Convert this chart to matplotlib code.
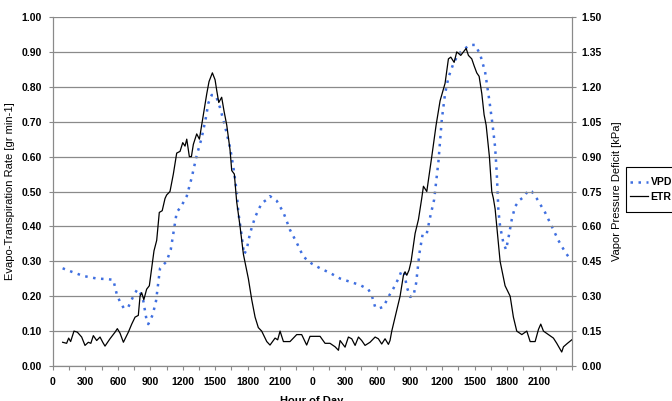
import matplotlib
matplotlib.use("Agg")
import matplotlib.pyplot as plt
from matplotlib.patches import Rectangle
import numpy as np

plt.rcParams.update({
    "font.family": ["Liberation Sans", "DejaVu Sans"],
    "font.weight": "bold", "font.size": 7.5,
})

GRID, BLUE = "#8a8a8a", "#3f6fe0"

# hours since start of day 1 (two days), ETR in gr min-1
etr_h = [0.89, 1.26, 1.45, 1.63, 1.94, 2.25, 2.65, 2.96, 3.27, 3.50, 3.73, 4.04,
         4.35, 4.60, 4.81, 5.27, 5.74, 5.95, 6.20, 6.51, 6.97, 7.28, 7.59, 7.89,
         8.05, 8.20, 8.40, 8.66, 8.91, 9.34, 9.59, 9.83, 10.1, 10.36, 10.51, 10.82,
         11.13, 11.44, 11.75, 12.00, 12.21, 12.37, 12.61, 12.80, 12.98, 13.29, 13.54,
         13.91, 14.22, 14.43, 14.74, 14.99, 15.14, 15.33, 15.60, 15.82, 16.07, 16.37,
         16.53, 16.77, 16.99, 17.30, 17.61, 18.07, 18.38, 18.69, 18.99, 19.30, 19.77,
         20.07, 20.54, 20.78, 21.00, 21.31, 21.92, 22.54, 23.00, 23.46, 23.77, 24.70,
         25.16, 25.62, 26.09, 26.40, 26.55, 27.01, 27.32, 27.63, 27.94, 28.25, 28.55,
         28.86, 29.32, 29.79, 30.09, 30.40, 30.71, 31.02, 31.17, 31.33, 31.79, 32.10,
         32.41, 32.56, 32.72, 32.93, 33.12, 33.49, 33.80, 34.10, 34.26, 34.57, 35.03,
         35.43, 35.80, 36.26, 36.57, 36.79, 37.10, 37.34, 37.71, 37.96, 38.21, 38.42,
         38.73, 38.95, 39.19, 39.41, 39.66, 39.87, 40.06, 40.36, 40.58, 40.73, 40.89,
         41.04, 41.35, 41.81, 42.28, 42.58, 42.89, 43.36, 43.82, 44.13, 44.59, 44.90,
         45.11, 45.36, 45.82, 46.28, 46.59, 47.05, 47.21, 47.58, 47.98]
etr = [0.068, 0.065, 0.080, 0.070, 0.100, 0.097, 0.083, 0.059, 0.068, 0.065, 0.087, 0.073,
       0.083, 0.068, 0.057, 0.078, 0.097, 0.107, 0.094, 0.068, 0.097, 0.120, 0.140, 0.145,
       0.200, 0.210, 0.190, 0.220, 0.230, 0.330, 0.360, 0.440, 0.445, 0.480, 0.490, 0.500,
       0.550, 0.610, 0.615, 0.640, 0.630, 0.650, 0.600, 0.600, 0.635, 0.665, 0.650,
       0.720, 0.780, 0.815, 0.840, 0.820, 0.790, 0.755, 0.770, 0.730, 0.690, 0.620,
       0.560, 0.550, 0.470, 0.400, 0.320, 0.250, 0.190, 0.140, 0.110, 0.100, 0.070,
       0.060, 0.080, 0.075, 0.100, 0.070, 0.070, 0.090, 0.090, 0.060, 0.085, 0.085,
       0.065, 0.065, 0.055, 0.045, 0.073, 0.054, 0.083, 0.078, 0.059, 0.083, 0.073,
       0.059, 0.068, 0.083, 0.078, 0.063, 0.078, 0.062, 0.073, 0.100, 0.160, 0.200,
       0.260, 0.270, 0.260, 0.275, 0.300, 0.380, 0.420, 0.480, 0.515, 0.500, 0.600,
       0.690, 0.760, 0.810, 0.880, 0.885, 0.870, 0.900, 0.890, 0.900, 0.910, 0.890,
       0.880, 0.860, 0.840, 0.830, 0.780, 0.720, 0.690, 0.600, 0.500, 0.480, 0.450,
       0.400, 0.300, 0.230, 0.200, 0.140, 0.100, 0.090, 0.100, 0.070, 0.070, 0.105,
       0.120, 0.100, 0.090, 0.080, 0.065, 0.040, 0.055, 0.065, 0.075]

# VPD in kPa (right axis)
vpd_h = [0.89, 1.73, 2.80, 4.04, 5.12, 5.58, 5.89, 6.20, 6.57, 6.97, 7.43, 7.80, 8.05,
         8.35, 8.66, 8.81, 9.22, 9.53, 9.90, 10.51, 10.89, 11.44, 11.90, 12.37, 12.83,
         13.29, 13.75, 14.15, 14.37, 14.68, 15.08, 15.45, 15.91, 16.37, 16.68, 16.99,
         17.14, 17.45, 17.67, 17.91, 18.22, 18.69, 19.30, 19.77, 20.07, 20.69, 21.31,
         21.92, 22.54, 23.15, 23.93, 24.70, 25.62, 26.55, 27.47, 28.40, 29.17, 29.48,
         29.79, 30.09, 30.56, 31.02, 31.48, 31.95, 32.25, 32.47, 32.72, 33.03, 33.33,
         33.58, 33.89, 34.20, 34.57, 34.88, 35.25, 35.65, 35.96, 36.26, 36.57, 37.03,
         37.49, 37.96, 38.57, 39.04, 39.50, 39.96, 40.36, 40.67, 40.89, 41.04, 41.19,
         41.35, 41.65, 41.90, 42.12, 42.43, 42.74, 43.20, 43.51, 43.97, 44.28, 44.74,
         45.51, 46.13, 46.74, 47.36, 47.67]
vpd = [0.42, 0.405, 0.387, 0.376, 0.373, 0.37, 0.31, 0.275, 0.247, 0.254, 0.30, 0.33, 0.315,
       0.28, 0.196, 0.18, 0.22, 0.28, 0.42, 0.45, 0.50, 0.66, 0.69, 0.73, 0.81,
       0.905, 0.98, 1.07, 1.13, 1.165, 1.16, 1.11, 1.03, 0.94, 0.855, 0.75,
       0.66, 0.56, 0.48, 0.50, 0.57, 0.64, 0.70, 0.715, 0.73, 0.71, 0.66,
       0.585, 0.53, 0.47, 0.44, 0.42, 0.40, 0.376, 0.362, 0.348, 0.329, 0.304,
       0.254, 0.247, 0.254, 0.297, 0.333, 0.376, 0.41, 0.405, 0.34, 0.297, 0.30,
       0.355, 0.485, 0.57, 0.57, 0.64, 0.715, 0.88, 1.06, 1.17, 1.24, 1.30,
       1.34, 1.36, 1.38, 1.38, 1.34, 1.265, 1.14, 1.03, 0.94, 0.83, 0.67,
       0.60, 0.53, 0.50, 0.55, 0.63, 0.686, 0.715, 0.725, 0.755, 0.75, 0.72,
       0.66, 0.60, 0.54, 0.49, 0.47]

tick_hours = np.arange(0, 48.1, 1.5)
day_labels = ["0", "300", "600", "900", "1200", "1500", "1800", "2100"]

fig = plt.figure(figsize=(6.72, 4.01), dpi=100)
ax = fig.add_axes([53 / 672, 1 - 366 / 401, 519 / 672, 349 / 401])
ax2 = ax.twinx()

ax.set_xlim(0, 48)
ax.set_ylim(0, 1.0)
ax2.set_ylim(0, 1.5)
ax.set_yticks(np.arange(0, 1.01, 0.1))
ax.set_yticklabels([f"{v:.2f}" for v in np.arange(0, 1.01, 0.1)])
ax2.set_yticks(np.arange(0, 1.51, 0.15))
ax2.set_yticklabels([f"{v:.2f}" for v in np.arange(0, 1.51, 0.15)])
labs = []
for i, t in enumerate(tick_hours):
    labs.append(day_labels[(i // 2) % 8] if i % 2 == 0 and t < 48 else "")
ax.set_xticks(tick_hours)
ax.set_xticklabels(labs)

ax.grid(axis="y", color=GRID, linewidth=0.9)
ax.set_axisbelow(True)
for a in (ax, ax2):
    for s in a.spines.values():
        s.set_color(GRID)
    a.spines["top"].set_visible(False)
    a.tick_params(color=GRID, length=3, width=0.8, labelsize=7.5)
ax.tick_params(axis="x", pad=5)
ax.tick_params(axis="y", pad=5)
ax2.tick_params(axis="y", pad=4)

l2, = ax2.plot(vpd_h, vpd, color=BLUE, linewidth=1.8, linestyle=(0, (1, 2.2)),
               label="VPD")
l1, = ax.plot(etr_h, etr, color="black", linewidth=0.9, label="ETR")
ax.set_zorder(ax2.get_zorder() + 1)
ax.patch.set_visible(False)

ax.set_ylabel("Evapo-Transpiration Rate [gr min-1]", fontsize=8, labelpad=5)
ax2.set_ylabel("Vapor Pressure Deficit [kPa]", fontsize=8, labelpad=7)
fig.text(312 / 672, 0.0, "Hour of Day", ha="center", va="center", fontsize=8)

# legend sits partly outside the figure, as in the source
fig.patches.append(Rectangle((626 / 672, 1 - 212 / 401), 60 / 672, 45 / 401,
                             transform=fig.transFigure, fill=False,
                             edgecolor="black", linewidth=0.8))
fig.legend([l2, l1], ["VPD", "ETR"], loc="center left",
           bbox_to_anchor=(626 / 672, 1 - 189.5 / 401), fontsize=7.5,
           frameon=False, borderaxespad=0, borderpad=0.4,
           handlelength=1.7, handletextpad=0.25, labelspacing=0.45)

fig.savefig("out.png", dpi=100)
